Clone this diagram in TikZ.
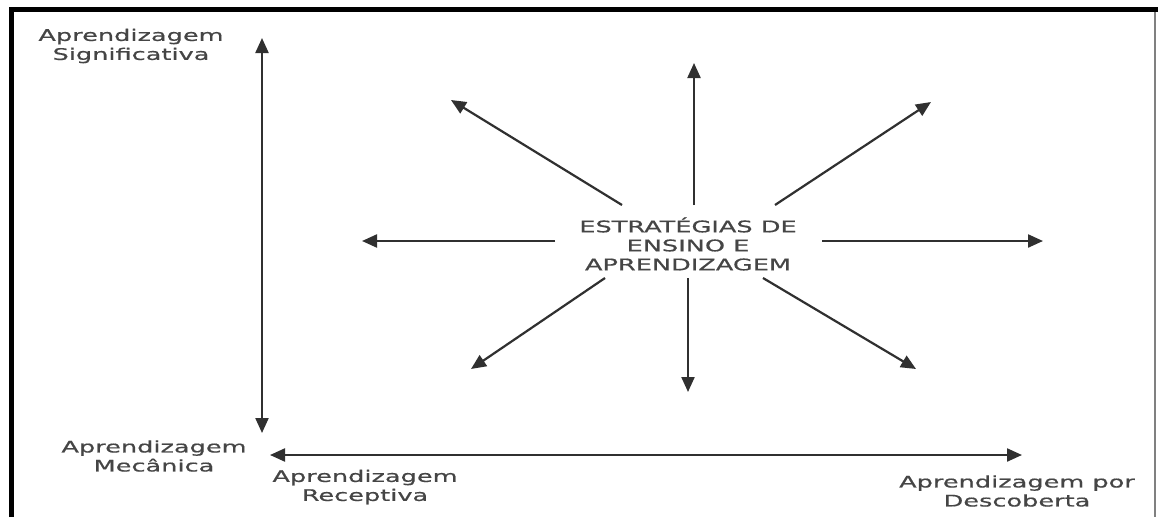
\documentclass[tikz,border=0pt]{standalone}
\usepackage{fontspec}
\newfontfamily\vfont[FakeStretch=1.6,FakeBold=0.6]{DejaVu Sans}
\usetikzlibrary{arrows.meta}
\definecolor{txt}{HTML}{454545}
\definecolor{ln}{HTML}{303030}
\tikzset{
  lbl/.style={font=\vfont\fontsize{16}{19}\selectfont, text=txt, align=center, inner sep=0pt},
  arr/.style={draw=ln, line width=2.2pt, -{Triangle[length=15pt,width=13pt]}},
  darr/.style={draw=ln, line width=2.2pt, {Triangle[length=15pt,width=13pt]}-{Triangle[length=15pt,width=13pt]}},
  frame/.style={draw=black, line width=5pt}
}
\begin{document}
\begin{tikzpicture}[x=1pt,y=-1pt]
\useasboundingbox (0,0) rectangle (1158,517);
\fill[white] (0,0) rectangle (1158,517);
% frame
\draw[frame] (11,517) -- (11,9.5) -- (1158,9.5);
\draw[gray, line width=1.5pt] (1155,12) -- (1155,517);
% labels
\node[lbl] (sig) at (131,46) {Aprendizagem\\Significativa};
\node[lbl] (mec) at (154,456) {Aprendizagem\\Mecânica};
\node[lbl] (rec) at (365,487) {Aprendizagem\\Receptiva};
\node[lbl] (des) at (1017,491) {Aprendizagem por\\Descoberta};
\node[lbl] (est) at (688,244) {ESTRATÉGIAS DE\\ENSINO E\\APRENDIZAGEM};
% axes
\coordinate (vt) at (262,38);
\coordinate (vb) at (262,433);
\coordinate (hl) at (270,455);
\coordinate (hr) at (1022,455);
\draw[darr] (vt) -- (vb);
\draw[darr] (hl) -- (hr);
% star
\coordinate (tU) at (694,205);  \coordinate (hU) at (694,63);
\coordinate (tUL) at (622,205); \coordinate (hUL) at (451,100);
\coordinate (tUR) at (775,205); \coordinate (hUR) at (931,102);
\coordinate (tL) at (555,241);  \coordinate (hL) at (362,241);
\coordinate (tR) at (822,241);  \coordinate (hR) at (1043,241);
\coordinate (tDL) at (605,278); \coordinate (hDL) at (471,369);
\coordinate (tD) at (688,278);  \coordinate (hD) at (688,392);
\coordinate (tDR) at (763,278); \coordinate (hDR) at (916,369);
\foreach \a in {U,UL,UR,L,R,DL,D,DR} {\draw[arr] (t\a) -- (h\a);}
\end{tikzpicture}
\end{document}
